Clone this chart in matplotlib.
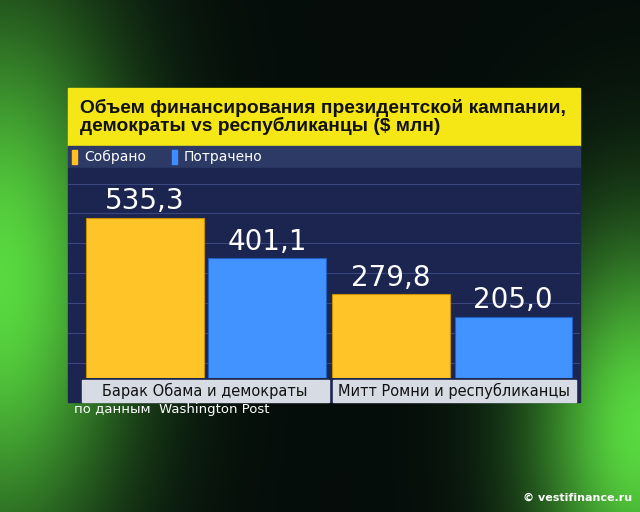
import numpy as np
import matplotlib
matplotlib.use("Agg")
import matplotlib.pyplot as plt
from matplotlib.patches import Rectangle

categories = ["Барак Обама и демократы", "Митт Ромни и республиканцы"]
raised = [535.3, 279.8]
spent = [401.1, 205.0]
series_names = ["Собрано", "Потрачено"]
title = "Объем финансирования президентской кампании,\nдемократы vs республиканцы ($ млн)"

W, H = 640, 512
fig = plt.figure(figsize=(6.4, 5.12), dpi=100)

bg = fig.add_axes([0, 0, 1, 1])
yy, xx = np.mgrid[0:H, 0:W]
left = np.exp(-(((xx - 0) / 130.0) ** 2 + ((yy - 280) / 280.0) ** 2))
right = np.exp(-(((xx - 640) / 110.0) ** 2 + ((yy - 430) / 200.0) ** 2))
glow = np.clip(left + right, 0, 1)
base = np.array([0.02, 0.05, 0.04])
green = np.array([0.35, 0.85, 0.25])
g = base + glow[..., None] * (green - base)
bg.imshow(g, extent=[0, W, H, 0], aspect="auto")
bg.set_xlim(0, W); bg.set_ylim(H, 0); bg.axis("off")

bg.add_patch(Rectangle((68, 88), 512, 58, color="#f5e615"))
bg.text(80, 117, title, fontsize=13.8, fontweight="bold", color="#111", va="center",
        linespacing=1.05, family="Liberation Sans")
bg.add_patch(Rectangle((68, 146), 512, 22, color="#2d3a66"))
bg.add_patch(Rectangle((72, 150), 5, 14, color="#ffc020"))
bg.text(84, 157, series_names[0], fontsize=10, color="white", va="center")
bg.add_patch(Rectangle((172, 150), 5, 14, color="#3f8cff"))
bg.text(184, 157, series_names[1], fontsize=10, color="white", va="center")
bg.add_patch(Rectangle((68, 168), 512, 234, color="#1c2550"))
bg.add_patch(Rectangle((82, 380), 247, 22, color="#d7dbe3"))
bg.add_patch(Rectangle((333, 380), 243, 22, color="#d7dbe3"))
bg.text(205, 391, categories[0], fontsize=10.5, color="#111", ha="center", va="center")
bg.text(454, 391, categories[1], fontsize=10.5, color="#111", ha="center", va="center")
bg.text(74, 409, "по данным  Washington Post", fontsize=9.5, color="white", va="center")
bg.text(632, 498, "© vestifinance.ru", fontsize=8, color="white", ha="right", va="center", fontweight="bold")

ax = fig.add_axes([68 / W, (H - 378) / H, 512 / W, 210 / H])
ax.patch.set_alpha(0)
x = np.arange(len(categories))
w = 0.476
off = 0.248
b1 = ax.bar(x - off, raised, w, color="#ffc528", edgecolor="#c89000", linewidth=0.8)
b2 = ax.bar(x + off, spent, w, color="#4293ff", edgecolor="#1f5fc0", linewidth=0.8)
for bars, vals in ((b1, raised), (b2, spent)):
    for r, v in zip(bars, vals):
        ax.text(r.get_x() + r.get_width() / 2, v + 8, f"{v:.1f}".replace(".", ","),
                ha="center", va="bottom", fontsize=20, color="white")
ax.set_xlim(-0.561, 1.52)
ax.set_ylim(0, 702)
for yv in np.arange(50, 700, 100):
    ax.axhline(yv, color="#3a4680", lw=0.8, zorder=0)
ax.axis("off")
fig.savefig("out.png", dpi=100)
